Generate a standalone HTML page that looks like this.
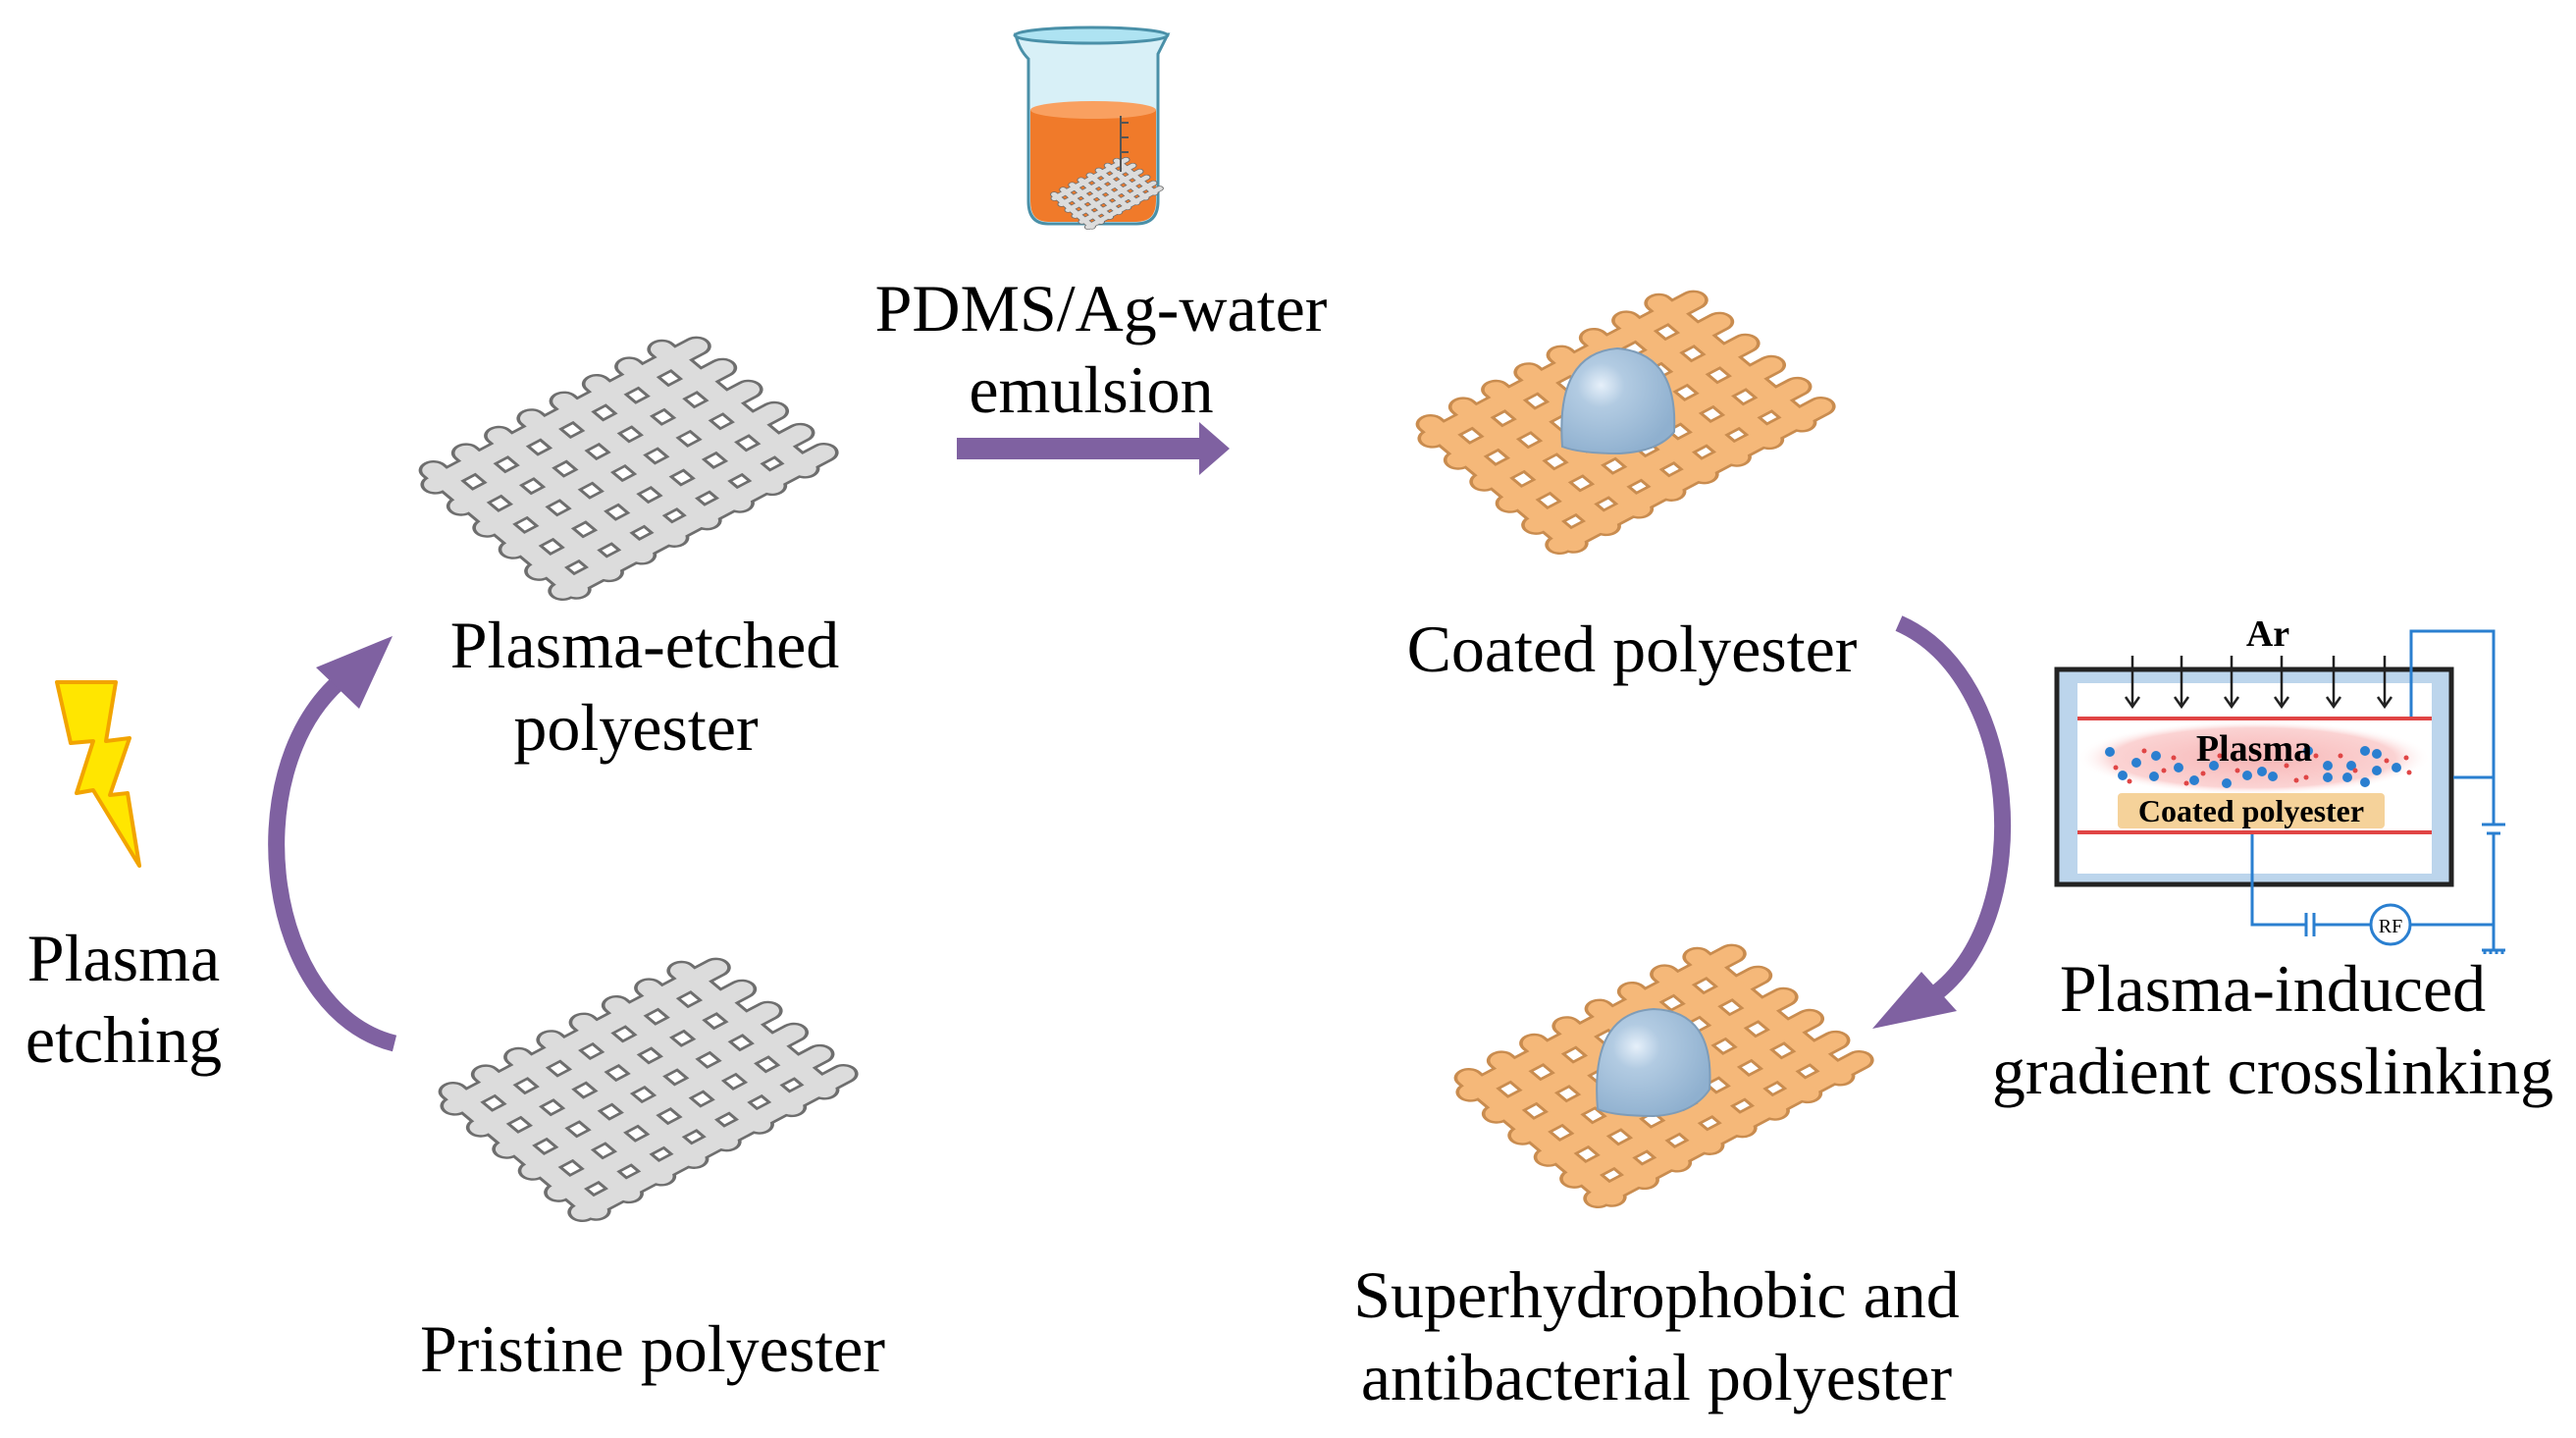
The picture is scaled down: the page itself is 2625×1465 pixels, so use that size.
<!DOCTYPE html>
<html><head><meta charset="utf-8"><style>
html,body{margin:0;padding:0;background:#fff}
svg{display:block}
text{font-family:"Liberation Serif",serif;fill:#000}
</style></head><body>
<svg width="2625" height="1465" viewBox="0 0 2625 1465" xmlns="http://www.w3.org/2000/svg">
<defs>
<g id="grayfab">
 <g stroke="#6e6e6e" stroke-width="25" stroke-linecap="round" fill="none">
  <path d="M10,20 H290 M10,55 H290 M10,90 H290 M10,125 H290 M10,160 H290 M10,192 H290"/>
  <path d="M20,5 V198 M55,5 V198 M90,5 V198 M125,5 V198 M160,5 V198 M195,5 V198 M230,5 V198 M265,5 V198"/>
 </g>
 <g stroke="#dcdcdc" stroke-width="19" stroke-linecap="round" fill="none">
  <path d="M10,20 H290 M10,55 H290 M10,90 H290 M10,125 H290 M10,160 H290 M10,192 H290"/>
  <path d="M20,5 V198 M55,5 V198 M90,5 V198 M125,5 V198 M160,5 V198 M195,5 V198 M230,5 V198 M265,5 V198"/>
 </g>
</g>
<g id="orfab">
 <g stroke="#c98c4f" stroke-width="25" stroke-linecap="round" fill="none">
  <path d="M10,20 H290 M10,55 H290 M10,90 H290 M10,125 H290 M10,160 H290 M10,192 H290"/>
  <path d="M20,5 V198 M55,5 V198 M90,5 V198 M125,5 V198 M160,5 V198 M195,5 V198 M230,5 V198 M265,5 V198"/>
 </g>
 <g stroke="#f5b879" stroke-width="19" stroke-linecap="round" fill="none">
  <path d="M10,20 H290 M10,55 H290 M10,90 H290 M10,125 H290 M10,160 H290 M10,192 H290"/>
  <path d="M20,5 V198 M55,5 V198 M90,5 V198 M125,5 V198 M160,5 V198 M195,5 V198 M230,5 V198 M265,5 V198"/>
 </g>
</g>
<radialGradient id="drop" cx="0.35" cy="0.35" r="0.7">
 <stop offset="0" stop-color="#e6f0fa"/><stop offset="0.3" stop-color="#b2cbe2"/><stop offset="1" stop-color="#8fb0cf"/>
</radialGradient>
<radialGradient id="glow" cx="0.5" cy="0.5" r="0.5">
 <stop offset="0" stop-color="#f7b6b6"/><stop offset="0.8" stop-color="#fbd3d3"/><stop offset="1" stop-color="#fff" stop-opacity="0"/>
</radialGradient>
</defs>

<!-- fabrics -->
<g transform="matrix(0.95,-0.503,0.755,0.63,419,486)"><use href="#grayfab"/></g>
<g transform="matrix(0.95,-0.503,0.755,0.63,439,1119)"><use href="#grayfab"/></g>
<g transform="matrix(0.95,-0.503,0.755,0.63,1435,439)"><use href="#orfab"/></g>
<g transform="matrix(0.95,-0.503,0.755,0.63,1474,1105)"><use href="#orfab"/></g>
<!-- droplets -->
<path d="M1592,455 Q1585,360 1648,355 Q1710,360 1706,440 Q1690,460 1650,462 Q1610,462 1592,455Z" fill="url(#drop)" stroke="#7e9cb8" stroke-width="2"/>
<path d="M1628,1130 Q1620,1032 1685,1028 Q1748,1030 1742,1110 Q1725,1135 1685,1137 Q1645,1137 1628,1130Z" fill="url(#drop)" stroke="#7e9cb8" stroke-width="2"/>

<!-- beaker -->
<path d="M1035,35 L1190,35 L1180,55 L1180,205 Q1180,228 1158,228 L1068,228 Q1048,228 1048,205 L1048,60 Q1038,50 1035,35Z" fill="#d8f0f7" stroke="#4a90a8" stroke-width="3"/>
<path d="M1050,112 Q1115,100 1178,112 L1178,205 Q1178,226 1158,226 L1068,226 Q1050,226 1050,205Z" fill="#f07a2a"/>
<ellipse cx="1114" cy="112" rx="64" ry="9" fill="#f9a060"/>
<ellipse cx="1112" cy="36" rx="78" ry="8" fill="#aee3f2" stroke="#4a90a8" stroke-width="3"/>
<g transform="matrix(0.26,-0.14,0.2,0.17,1068,200)"><use href="#grayfab"/></g>
<path d="M1142,118 V175 M1142,125 H1150 M1142,140 H1150 M1142,155 H1150" stroke="#555" stroke-width="2" fill="none"/>

<!-- straight arrow -->
<rect x="975" y="446" width="252" height="22" fill="#7f61a1"/>
<polygon points="1222,430 1253,457 1222,484" fill="#7f61a1"/>

<!-- left curved arrow -->
<path d="M402,1063 C270,1030 240,790 345,695" fill="none" stroke="#7f61a1" stroke-width="17"/>
<polygon points="400,648 322,680 366,722" fill="#7f61a1"/>
<!-- right curved arrow -->
<path d="M1935,635 C2060,690 2075,930 1975,1010" fill="none" stroke="#7f61a1" stroke-width="17"/>
<polygon points="1908,1048 1958,990 1994,1030" fill="#7f61a1"/>

<!-- lightning -->
<polygon points="58,695 118,695 108,755 132,752 112,810 130,808 142,882 95,805 78,808 95,755 72,757" fill="#ffe600" stroke="#f2a400" stroke-width="4" stroke-linejoin="round"/>

<!-- texts -->
<g font-size="68" text-anchor="middle">
<text x="1122" y="337">PDMS/Ag-water</text>
<text x="1112" y="420">emulsion</text>
<text x="657" y="680">Plasma-etched</text>
<text x="648" y="764">polyester</text>
<text x="665" y="1397">Pristine polyester</text>
<text x="126" y="999">Plasma</text>
<text x="126" y="1082">etching</text>
<text x="1663" y="684">Coated polyester</text>
<text x="1688" y="1342">Superhydrophobic and</text>
<text x="1688" y="1426">antibacterial polyester</text>
<text x="2316" y="1030">Plasma-induced</text>
<text x="2316" y="1114">gradient crosslinking</text>
</g>

<!-- chamber -->
<rect x="2096" y="682" width="402" height="219" fill="#bcd5ec" stroke="#222" stroke-width="5"/>
<rect x="2117" y="696" width="361" height="194" fill="#fff"/>
<ellipse cx="2297" cy="772" rx="180" ry="38" fill="url(#glow)"/>
<rect x="2158" y="808" width="272" height="36" rx="4" fill="#f5d29a"/>
<line x1="2117" y1="732" x2="2478" y2="732" stroke="#e04545" stroke-width="4"/>
<line x1="2117" y1="848" x2="2478" y2="848" stroke="#e04545" stroke-width="4"/>
<g stroke="#222" stroke-width="2.5" fill="none">
 <path d="M2173,668 V720 M2223,668 V720 M2274,668 V720 M2325,668 V720 M2378,668 V720 M2430,668 V720"/>
 <path d="M2166,710 L2173,720 L2180,710 M2216,710 L2223,720 L2230,710 M2267,710 L2274,720 L2281,710 M2318,710 L2325,720 L2332,710 M2371,710 L2378,720 L2385,710 M2423,710 L2430,720 L2437,710"/>
</g>
<g fill="#2a7fd0">
 <circle cx="2150" cy="766" r="5"/><circle cx="2177" cy="777" r="5"/><circle cx="2197" cy="770" r="5"/><circle cx="2163" cy="790" r="5"/><circle cx="2195" cy="791" r="5"/><circle cx="2220" cy="782" r="5"/><circle cx="2236" cy="795" r="5"/><circle cx="2256" cy="780" r="5"/><circle cx="2269" cy="798" r="5"/><circle cx="2290" cy="790" r="5"/><circle cx="2305" cy="786" r="5"/><circle cx="2316" cy="791" r="5"/><circle cx="2352" cy="765" r="5"/><circle cx="2372" cy="780" r="5"/><circle cx="2372" cy="792" r="5"/><circle cx="2396" cy="780" r="5"/><circle cx="2392" cy="792" r="5"/><circle cx="2410" cy="765" r="5"/><circle cx="2422" cy="785" r="5"/><circle cx="2442" cy="782" r="5"/><circle cx="2410" cy="797" r="5"/><circle cx="2422" cy="768" r="5"/>
</g>
<g fill="#e04545">
 <circle cx="2156" cy="782" r="2.5"/><circle cx="2185" cy="765" r="2.5"/><circle cx="2205" cy="785" r="2.5"/><circle cx="2215" cy="772" r="2.5"/><circle cx="2245" cy="788" r="2.5"/><circle cx="2262" cy="770" r="2.5"/><circle cx="2280" cy="785" r="2.5"/><circle cx="2330" cy="780" r="2.5"/><circle cx="2340" cy="795" r="2.5"/><circle cx="2360" cy="770" r="2.5"/><circle cx="2385" cy="770" r="2.5"/><circle cx="2400" cy="785" r="2.5"/><circle cx="2432" cy="775" r="2.5"/><circle cx="2452" cy="772" r="2.5"/><circle cx="2455" cy="787" r="2.5"/><circle cx="2170" cy="796" r="2.5"/><circle cx="2228" cy="798" r="2.5"/><circle cx="2350" cy="792" r="2.5"/>
</g>
<text x="2297" y="775" font-size="38" font-weight="bold" text-anchor="middle">Plasma</text>
<text x="2294" y="837" font-size="32" font-weight="bold" text-anchor="middle">Coated polyester</text>
<text x="2311" y="658" font-size="38" font-weight="bold" text-anchor="middle">Ar</text>
<!-- wiring -->
<g stroke="#2a7fd0" stroke-width="3" fill="none">
 <path d="M2457,730 V643 H2541 V840"/>
 <path d="M2500,792 H2541"/>
 <path d="M2529,840 H2553 M2534,849 H2548"/>
 <path d="M2541,849 V968"/>
 <path d="M2295,850 V942 H2350 M2358,942 H2416 M2456,942 H2541"/>
 <path d="M2350,930 V954 M2358,930 V954"/>
 <circle cx="2436" cy="942" r="20"/>
 <path d="M2529,968 H2553 M2532,968 V972 M2538,968 V972 M2544,968 V972 M2550,968 V972"/>
</g>
<text x="2436" y="950" font-size="20" text-anchor="middle" fill="#333">RF</text>
</svg>
</body></html>
